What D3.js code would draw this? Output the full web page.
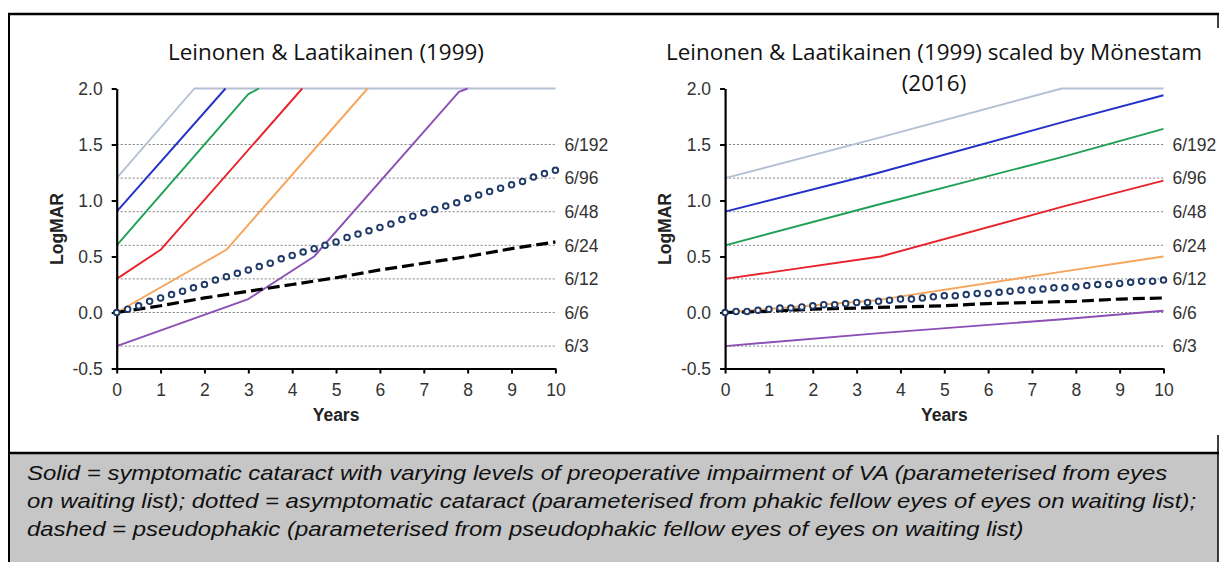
<!DOCTYPE html>
<html><head><meta charset="utf-8">
<script src="https://cdn.jsdelivr.net/npm/d3@7"></script>
<style>
html,body{margin:0;padding:0;background:#fff;}
svg{display:block;}
</style></head>
<body>
<svg id="chart" width="1219" height="562"></svg>
<script>
// ---------- data ----------
const yTicks = [-0.5, 0, 0.5, 1.0, 1.5, 2.0];
const xTicks = [0,1,2,3,4,5,6,7,8,9,10];
const refValues = [1.5, 1.2, 0.9, 0.6, 0.3, 0.0, -0.3];
const refLabels = ["6/192","6/96","6/48","6/24","6/12","6/6","6/3"];
const titleLeft = ["Leinonen & Laatikainen (1999)"];
const titleRight = ["Leinonen & Laatikainen (1999) scaled by Mönestam", "(2016)"];
const seriesNames = ["grey","blue","green","red","orange","purple"];
const seriesColors = ["#b4c0d4","#2331c8","#1fa055","#e8232b","#f6a55a","#8b4fb5"];

// left panel solid lines [year, LogMAR]
const leftGrey   = [[0,1.2],[1.77,2.0],[10,2.0]];
const leftBlue   = [[0,0.9],[2.48,2.0]];
const leftGreen  = [[0,0.6],[3.0,1.95],[3.24,2.0]];
const leftRed    = [[0,0.3],[1,0.56],[4.23,2.0]];
const leftOrange = [[0,0.0],[2.5,0.56],[5.72,2.0]];
const leftPurple = [[0,-0.3],[3,0.12],[4.5,0.5],[7.8,1.97],[8.0,2.0]];

// right panel solid lines
const rightGrey   = [[0,1.2],[3.46,1.555],[7.68,2.0],[10,2.0]];
const rightBlue   = [[0,0.9],[3.46,1.243],[7.7,1.70],[10,1.94]];
const rightGreen  = [[0,0.6],[3.46,0.96],[7.7,1.39],[10,1.64]];
const rightRed    = [[0,0.3],[3.55,0.50],[7.7,0.945],[10,1.177]];
const rightOrange = [[0,0.0],[3.46,0.11],[7.7,0.365],[10,0.50]];
const rightPurple = [[0,-0.3],[3.46,-0.186],[7.7,-0.06],[10,0.016]];

// dashed (pseudophakic)
const dashedYears = [0,1,2,3,4,5,6,7,8,9,10];
const leftDashed  = [0,0.06,0.13,0.19,0.25,0.31,0.38,0.44,0.50,0.57,0.63];
const rightDashed = [0,0.01,0.03,0.04,0.05,0.06,0.08,0.09,0.10,0.12,0.13];

// dotted (asymptomatic) markers
const dotYears = [0,0.25,0.5,0.75,1,1.25,1.5,1.75,2,2.25,2.5,2.75,3,3.25,3.5,3.75,4,4.25,4.5,4.75,5,
                  5.25,5.5,5.75,6,6.25,6.5,6.75,7,7.25,7.5,7.75,8,8.25,8.5,8.75,9,9.25,9.5,9.75,10];
const leftDotted  = [0,0.03,0.06,0.10,0.13,0.16,0.19,0.22,0.25,0.29,0.32,0.35,0.38,0.41,0.44,0.48,0.51,
                     0.54,0.57,0.60,0.63,0.67,0.70,0.73,0.76,0.79,0.83,0.86,0.89,0.92,0.95,0.98,1.02,
                     1.05,1.08,1.11,1.14,1.17,1.21,1.24,1.27];
const rightDotted = [0,0.01,0.01,0.02,0.03,0.04,0.04,0.05,0.06,0.07,0.07,0.08,0.09,0.09,0.10,0.11,0.12,
                     0.12,0.13,0.14,0.15,0.15,0.16,0.17,0.17,0.18,0.19,0.20,0.20,0.21,0.22,0.22,0.23,
                     0.24,0.25,0.25,0.26,0.27,0.28,0.28,0.29];

const captionLines = [
  "Solid = symptomatic cataract with varying levels of preoperative impairment of VA (parameterised from eyes",
  "on waiting list); dotted = asymptomatic cataract (parameterised from phakic fellow eyes of eyes on waiting list);",
  "dashed = pseudophakic (parameterised from pseudophakic fellow eyes of eyes on waiting list)"
];

// ---------- drawing ----------
const svg = d3.select("#chart");
const W = 1219, H = 562;

// caption box
svg.append("rect").attr("x",9).attr("y",453).attr("width",1209).attr("height",H-453).attr("fill","#c6c6c6");
svg.append("line").attr("x1",8).attr("x2",1219).attr("y1",453).attr("y2",453).attr("stroke","#000").attr("stroke-width",2.5);
// frame
svg.append("line").attr("x1",8).attr("x2",1219).attr("y1",14).attr("y2",14).attr("stroke","#000").attr("stroke-width",2.5);
svg.append("line").attr("x1",9).attr("x2",9).attr("y1",13).attr("y2",H).attr("stroke","#000").attr("stroke-width",2);
svg.append("line").attr("x1",1218).attr("x2",1218).attr("y1",13).attr("y2",28).attr("stroke","#000").attr("stroke-width",1.5);
svg.append("line").attr("x1",1218).attr("x2",1218).attr("y1",435).attr("y2",H).attr("stroke","#000").attr("stroke-width",1.5);

const capG = svg.append("g").attr("font-family","'Liberation Sans', Arial, sans-serif").attr("font-style","italic")
  .attr("font-size",20.5).attr("fill","#111");
const capY = [480, 508, 536];
const capTexts = capG.selectAll("text").data(captionLines).join("text")
  .attr("x",27).attr("y",(d,i)=>capY[i]).text(d=>d);
// fit to the reference widths
const w2 = capTexts.nodes()[1].getComputedTextLength();
const sx = 1170 / w2;
capTexts.attr("transform", (d,i)=>`translate(27,${capY[i]}) scale(${sx},1) translate(-27,${-capY[i]})`);

const fmt = d => d3.format(".1f")(d).replace("\u2212","-");

function panel(cfg){
  const x = d3.scaleLinear().domain([0,10]).range([cfg.x0, cfg.x1]);
  const y = d3.scaleLinear().domain([-0.5,2]).range([368.5, 88.5]);
  const g = svg.append("g");

  // reference lines
  g.selectAll("line.ref").data(refValues).join("line").attr("class","ref")
    .attr("x1",x(0)).attr("x2",x(10)).attr("y1",d=>y(d)).attr("y2",d=>y(d))
    .attr("stroke","#808080").attr("stroke-width",1).attr("stroke-dasharray","2,2");
  g.selectAll("text.ref").data(refLabels).join("text").attr("class","ref")
    .attr("x",x(10)+9).attr("y",(d,i)=>y(refValues[i])).attr("dy","0.36em")
    .attr("font-family","'Liberation Sans', Arial, sans-serif").attr("font-size",17.5).attr("fill","#333")
    .text(d=>d);

  const line = d3.line().x(d=>x(d[0])).y(d=>y(d[1]));
  cfg.series.forEach((s,i)=>{
    g.append("path").datum(s).attr("d",line).attr("fill","none")
      .attr("stroke",seriesColors[i]).attr("stroke-width",1.9).attr("stroke-linejoin","round");
  });

  // dashed
  g.append("path").datum(dashedYears.map((t,i)=>[t,cfg.dashed[i]])).attr("d",line)
    .attr("fill","none").attr("stroke","#000").attr("stroke-width",3.2).attr("stroke-dasharray","12,5");

  // axes
  const ax = g.append("g").attr("transform",`translate(0,${y(-0.5)})`)
    .call(d3.axisBottom(x).tickValues(xTicks).tickFormat(d3.format("d")).tickSize(5).tickSizeOuter(0).tickPadding(10));
  const ay = g.append("g").attr("transform",`translate(${x(0)},0)`)
    .call(d3.axisLeft(y).tickValues(yTicks).tickFormat(fmt).tickSize(5).tickSizeOuter(0).tickPadding(9));
  [ax,ay].forEach(a=>{
    a.select(".domain").attr("stroke","#000").attr("stroke-width",2.2);
    a.selectAll(".tick line").attr("stroke","#000").attr("stroke-width",2);
    a.selectAll(".tick text").attr("font-family","'Liberation Sans', Arial, sans-serif").attr("font-size",17.5).attr("fill","#333");
  });

  // dotted markers
  g.selectAll("circle").data(dotYears.map((t,i)=>[t,cfg.dotted[i]])).join("circle")
    .attr("cx",d=>x(d[0])).attr("cy",d=>y(d[1])).attr("r",2.8)
    .attr("fill","#fff").attr("stroke","#1f3a68").attr("stroke-width",1.9);

  // axis titles
  g.append("text").attr("x",(x(0)+x(10))/2).attr("y",421).attr("text-anchor","middle")
    .attr("font-family","'Liberation Sans', Arial, sans-serif").attr("font-weight","bold").attr("font-size",17.5)
    .attr("fill","#222").text("Years");
  g.append("text").attr("transform",`translate(${x(0)-60},229) rotate(-90)`).attr("text-anchor","middle")
    .attr("dy","0.35em")
    .attr("font-family","'Liberation Sans', Arial, sans-serif").attr("font-weight","bold").attr("font-size",17.5)
    .attr("fill","#222").text("LogMAR");

  // titles
  const tg = g.append("g").attr("font-family","'Open Sans', 'Noto Sans', sans-serif").attr("fill","#111");
  cfg.title.forEach((t,i)=>{
    tg.append("text").attr("class","ttl").attr("x",cfg.tx).attr("y",60+i*31).attr("text-anchor","middle")
      .attr("font-size",20).text(t);
  });
  return tg;
}

const tl = panel({x0:116.7, x1:555.4, series:[leftGrey,leftBlue,leftGreen,leftRed,leftOrange,leftPurple],
  dashed:leftDashed, dotted:leftDotted, title:titleLeft, tx:326});
const tr = panel({x0:725.1, x1:1163.5, series:[rightGrey,rightBlue,rightGreen,rightRed,rightOrange,rightPurple],
  dashed:rightDashed, dotted:rightDotted, title:titleRight, tx:934});

// fit title size to reference width
const wl = tl.select("text").node().getComputedTextLength();
const fs = 20 * 316 / wl;
svg.selectAll("text.ttl").attr("font-size",fs);
</script>
</body></html>
